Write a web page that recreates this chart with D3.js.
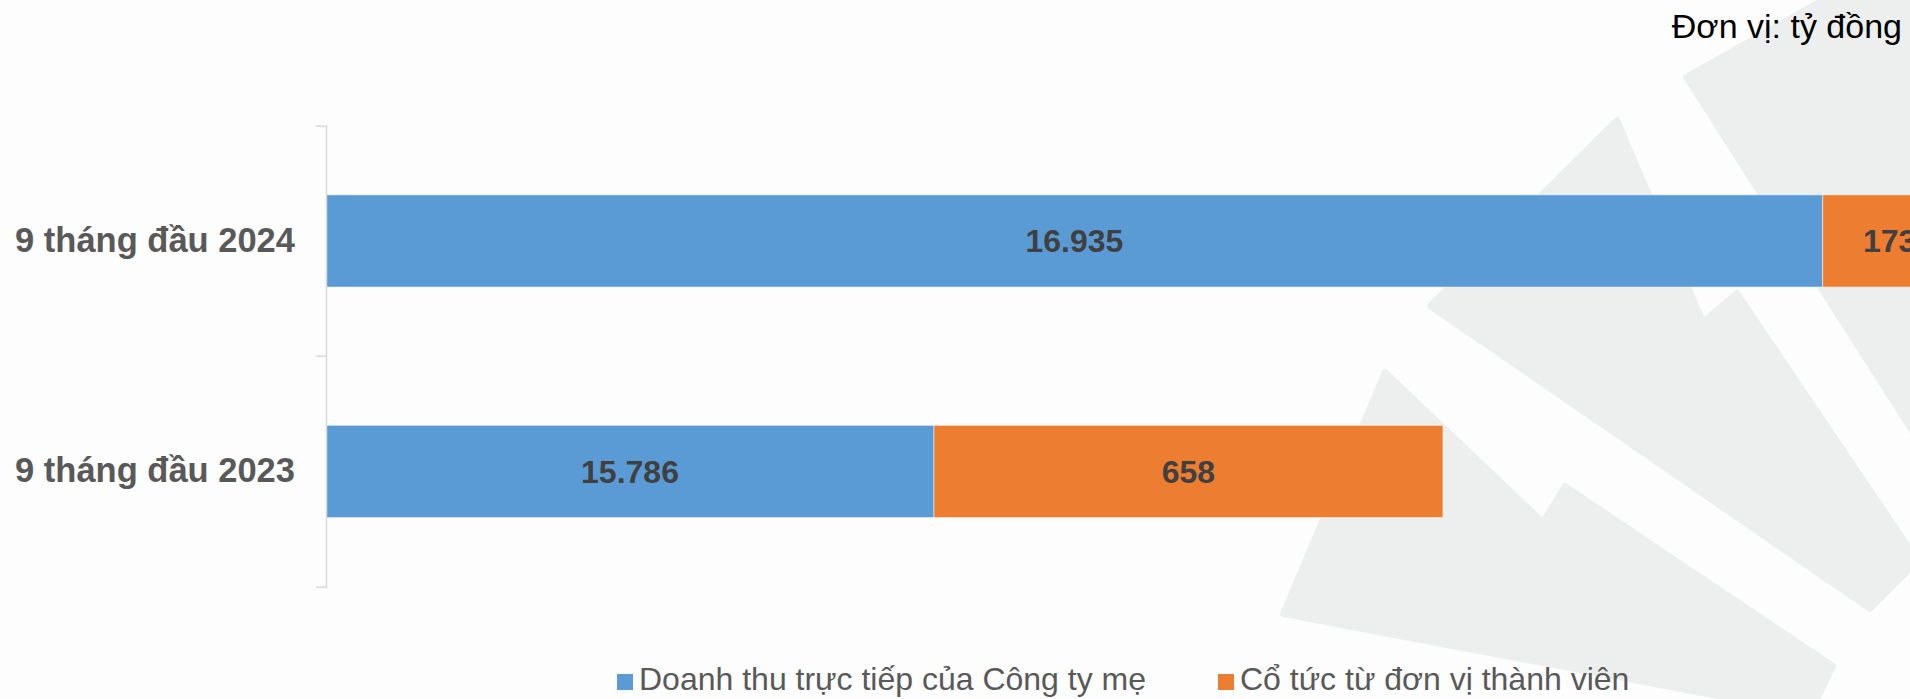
<!DOCTYPE html>
<html>
<head>
<meta charset="utf-8">
<script src="https://cdn.jsdelivr.net/npm/d3@7"></script>
<style>
  html, body { margin: 0; padding: 0; background: #fdfdfd; }
  svg { display: block; font-family: "Liberation Sans", Arial, sans-serif; }
</style>
</head>
<body>
<svg id="chart" width="1910" height="699"></svg>
<script>

// chart data
var categories = ["9 tháng đầu 2024", "9 tháng đầu 2023"];
var seriesNames = ["Doanh thu trực tiếp của Công ty mẹ", "Cổ tức từ đơn vị thành viên"];
var parentRevenue = [16935, 15786];
var dividends = [173, 658];
var unitLabel = "Đơn vị: tỷ đồng";
var axisMin = 15000, axisMax = 17500;

var colors = ["#5B9BD5", "#ED7D31"];

var svg = d3.select("#chart"),
  width = +svg.attr("width"),
  height = +svg.attr("height");

// faint logo watermark behind the plot
var watermark = [
  [[1686,77],[1830,-4],[1916,-4],[1916,437]],
  [[1617,120],[1703,322],[1737,293],[1918,561],[1870,609],[1430,306]],
  [[1385,372],[1543,522],[1565,486],[1833,666],[1814,706],[1760,704],[1283,614]]
];

svg.append("g")
  .attr("class", "watermark")
  .selectAll("path")
  .data(watermark)
  .enter().append("path")
  .attr("d", function(d) { return "M" + d.join("L") + "Z"; })
  .style("fill", "#edefee")
  .style("stroke", "#edefee")
  .style("stroke-width", 6)
  .style("stroke-linejoin", "round");

// build rows for the stack
var table = categories.map(function(c, i) {
  var row = {category: c};
  row[seriesNames[0]] = parentRevenue[i];
  row[seriesNames[1]] = dividends[i];
  return row;
});

var stacked = d3.stack().keys(seriesNames)(table);

var x = d3.scaleLinear()
  .domain([axisMin, axisMax])
  .range([326, 326 + (axisMax - axisMin) * 0.7735]);

var y = d3.scaleBand()
  .domain(categories)
  .range([125.7, 586.7])
  .paddingInner(0.6)
  .paddingOuter(0.3);

var vn = d3.formatLocale({decimal: ",", thousands: ".", grouping: [3], currency: ["", ""]});
var fmt = vn.format(",");

// bars
var layers = svg.append("g")
  .selectAll("g")
  .data(stacked)
  .enter().append("g")
  .style("fill", function(d, i) { return colors[i]; });

layers.selectAll("rect")
  .data(function(d) { return d; })
  .enter().append("rect")
  .attr("x", function(d) { return x(Math.max(d[0], axisMin)); })
  .attr("y", function(d) { return y(d.data.category); })
  .attr("width", function(d) { return x(d[1]) - x(Math.max(d[0], axisMin)); })
  .attr("height", y.bandwidth())
  .style("stroke", "#fff")
  .style("stroke-opacity", 0.5)
  .style("stroke-width", 1);

// data labels (the 2024 dividend label runs off the right edge, as in the source)
layers.selectAll("text")
  .data(function(d) { return d.map(function(p) { return {p: p, key: d.key}; }); })
  .enter().append("text")
  .attr("x", function(d) { return x((Math.max(d.p[0], axisMin) + d.p[1]) / 2); })
  .attr("y", function(d) { return y(d.p.data.category) + y.bandwidth() / 2; })
  .attr("dy", "0.36em")
  .attr("text-anchor", "middle")
  .style("fill", "#404040")
  .style("font-size", "32px")
  .style("font-weight", "bold")
  .text(function(d) { return fmt(d.p.data[d.key]); });

// category axis
var yAxis = d3.axisLeft(y)
  .tickSize(0)
  .tickSizeOuter(10)
  .tickPadding(31);

var axisG = svg.append("g")
  .attr("transform", "translate(" + x(axisMin) + ",0)")
  .call(yAxis);

axisG.select(".domain")
  .style("stroke", "#d9d9d9")
  .style("stroke-width", 1.5);

axisG.selectAll(".tick text")
  .style("fill", "#595959")
  .style("font-size", "34.5px")
  .style("font-weight", "bold")
  .style("font-family", "'Liberation Sans', Arial, sans-serif");

// tick between the two categories
axisG.append("line")
  .attr("x1", -10)
  .attr("x2", 0)
  .attr("y1", y(categories[1]) - y.step() * y.paddingInner() / 2)
  .attr("y2", y(categories[1]) - y.step() * y.paddingInner() / 2)
  .style("stroke", "#d9d9d9")
  .style("stroke-width", 1.5);

// unit note
svg.append("text")
  .attr("x", 1902)
  .attr("y", 38)
  .attr("text-anchor", "end")
  .style("font-size", "34px")
  .style("fill", "#000")
  .text(unitLabel);

// legend
var legendX = [617, 1218];
var legend = svg.append("g")
  .selectAll("g")
  .data(seriesNames)
  .enter().append("g")
  .attr("transform", function(d, i) { return "translate(" + legendX[i] + ",674)"; });

legend.append("rect")
  .attr("width", 16)
  .attr("height", 16)
  .style("fill", function(d, i) { return colors[i]; });

legend.append("text")
  .attr("x", 22)
  .attr("y", 16)
  .style("font-size", "32px")
  .style("fill", "#595959")
  .text(function(d) { return d; });

</script>
</body>
</html>
